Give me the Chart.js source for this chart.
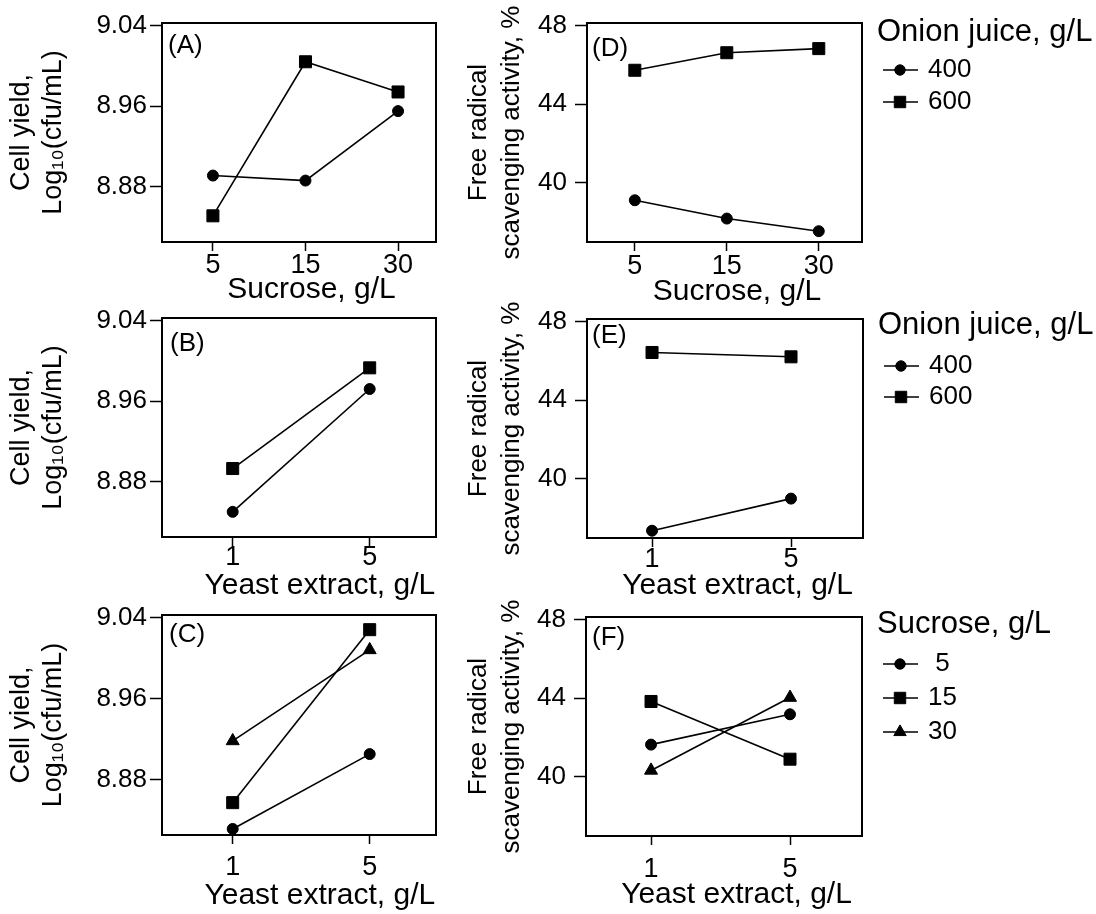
<!DOCTYPE html>
<html>
<head>
<meta charset="utf-8">
<script src="https://cdn.jsdelivr.net/npm/chart.js@4.4.1/dist/chart.umd.min.js"></script>
<style>
  body { margin: 0; background: #fff; }
  #fig { position: relative; width: 1096px; height: 914px; overflow: hidden; background: #fff; }
  #fig canvas { position: absolute; }
</style>
</head>
<body>
<div id="fig"></div>
<script>
// levels on the x axes / legends
const sucroseLevels = ['5', '15', '30'];
const yeastLevels = ['1', '5'];
const onionLevels = ['400', '600'];
const cellTicks = [8.88, 8.96, 9.04];
const fraTicks = [40, 44, 48];

// cell yield, log10(cfu/mL)
const cellSucrose400 = [8.891, 8.886, 8.955];
const cellSucrose600 = [8.851, 9.004, 8.974];
const cellYeast400 = [8.850, 8.972];
const cellYeast600 = [8.893, 8.993];
const cellYeastSuc5 = [8.831, 8.905];
const cellYeastSuc15 = [8.857, 9.028];
const cellYeastSuc30 = [8.918, 9.008];

// free radical scavenging activity, %
const fraSucrose400 = [39.12, 38.19, 37.55];
const fraSucrose600 = [45.72, 46.61, 46.82];
const fraYeast400 = [37.37, 39.00];
const fraYeast600 = [46.42, 46.20];
const fraYeastSuc5 = [41.64, 43.18];
const fraYeastSuc15 = [43.83, 40.90];
const fraYeastSuc30 = [40.33, 44.03];

const FONT = "'Liberation Sans', Arial, sans-serif";
Chart.defaults.font.family = FONT;
Chart.defaults.color = '#000';

const marks = {
  circle: { style: 'circle', r: 5.5 },
  square: { style: 'rect', r: 8.5 },
  triangle: { style: 'triangle', r: 7.5 }
};

function series(label, values, mark) {
  return {
    label: label,
    data: values.map((v, i) => ({ x: i, y: v })),
    borderColor: '#000',
    borderWidth: 1.6,
    pointStyle: marks[mark].style,
    pointRadius: marks[mark].r,
    pointHoverRadius: marks[mark].r,
    pointBackgroundColor: '#000',
    pointBorderColor: '#000',
    pointBorderWidth: 1,
    tension: 0,
    fill: false,
    clip: false
  };
}

// box round the plot, panel letter and the line+marker legend
const framePlugin = {
  id: 'frame',
  afterDraw(chart, args, o) {
    const ctx = chart.ctx, a = chart.chartArea;
    ctx.save();
    ctx.strokeStyle = '#000';
    ctx.fillStyle = '#000';
    ctx.lineWidth = 2;
    ctx.strokeRect(a.left, a.top, a.right - a.left, a.bottom - a.top);
    ctx.font = '26px ' + FONT;
    ctx.textBaseline = 'alphabetic';
    ctx.textAlign = 'left';
    ctx.fillText(o.tag, a.left + o.tagDx, a.top + o.tagDy);
    if (o.legendTitle) {
      const x0 = a.right;
      ctx.textBaseline = 'middle';
      ctx.font = '31px ' + FONT;
      ctx.fillText(o.legendTitle, x0 + 15, a.top + o.legDy);
      ctx.font = '26px ' + FONT;
      chart.data.datasets.forEach((ds, i) => {
        const y = a.top + o.legY0 + i * o.legStep;
        ctx.lineWidth = 1.6;
        ctx.beginPath();
        ctx.moveTo(x0 + 21, y);
        ctx.lineTo(x0 + 56, y);
        ctx.stroke();
        ctx.lineWidth = 1;
        Chart.helpers.drawPoint(ctx, { pointStyle: ds.pointStyle, radius: ds.pointRadius * 0.95, borderWidth: 1, rotation: 0 }, x0 + 38, y);
        ctx.fillText(ds.label, x0 + 66, y);
      });
    }
    ctx.restore();
  }
};

function makePanel(p) {
  const cv = document.createElement('canvas');
  const h = 23 + p.plotH + 80;
  cv.width = p.w;
  cv.height = h;
  cv.style.left = p.x + 'px';
  cv.style.top = (p.plotTop - 23) + 'px';
  document.getElementById('fig').appendChild(cv);

  new Chart(cv.getContext('2d'), {
    type: 'line',
    data: { datasets: p.datasets },
    options: {
      responsive: false,
      animation: false,
      devicePixelRatio: 1,
      events: [],
      layout: { padding: { left: 0, right: p.padRight, top: 23, bottom: 0 } },
      plugins: {
        legend: { display: false },
        tooltip: { enabled: false },
        frame: p.frame
      },
      scales: {
        x: {
          type: 'linear',
          min: p.xMin,
          max: p.xMax,
          afterBuildTicks: s => { s.ticks = p.cats.map((c, i) => ({ value: i })); },
          afterFit: s => { s.height = 80; },
          ticks: {
            callback: v => p.cats[v],
            font: { size: 27, lineHeight: 1 },
            padding: p.xTickPad,
            color: '#000',
            maxRotation: 0,
            autoSkip: false
          },
          grid: { display: true, drawOnChartArea: false, drawTicks: true, tickLength: 9, tickWidth: 1.5, tickColor: '#000' },
          border: { display: false },
          title: { display: true, text: p.xTitle, color: '#000', font: { size: 30, lineHeight: 1 }, padding: { top: 0, bottom: p.xTitlePad } }
        },
        y: {
          type: 'linear',
          min: p.yMin,
          max: p.yMax,
          afterBuildTicks: s => { s.ticks = p.yTicks.map(v => ({ value: v })); },
          afterFit: s => { s.width = p.yWidth; },
          ticks: {
            callback: v => v.toFixed(p.dec),
            font: { size: 26, lineHeight: 1 },
            padding: p.yTickPad,
            color: '#000'
          },
          grid: { display: true, drawOnChartArea: false, drawTicks: true, tickLength: 12, tickWidth: 1.5, tickColor: '#000' },
          border: { display: false },
          title: { display: true, text: p.yTitle, color: '#000', font: p.yTitleFont, padding: { top: p.yTitlePad, bottom: 0 } }
        }
      }
    },
    plugins: [framePlugin]
  });
}

const cellTitle = ['Cell yield,', 'Log\u2081\u2080(cfu/mL)'];
const fraTitle = ['Free radical', 'scavenging activity, %'];

const leftCol = {
  x: 0, w: 450, padRight: 14, yWidth: 162,
  yMin: 8.825, yMax: 9.0425, yTicks: cellTicks, dec: 2, yTickPad: 3,
  yTitle: cellTitle, yTitleFont: { size: 27, lineHeight: 1.2 }, yTitlePad: 5
};
const rightCol = {
  x: 450, w: 646, padRight: 234, yWidth: 137,
  yMin: 37.0, yMax: 48.12, yTicks: fraTicks, dec: 0, yTickPad: 8,
  yTitle: fraTitle, yTitleFont: { size: 26, lineHeight: 1.28 }, yTitlePad: 12
};

makePanel(Object.assign({}, leftCol, {
  plotTop: 23, plotH: 219, cats: sucroseLevels, xMin: -0.55, xMax: 2.41,
  xTitle: '   Sucrose, g/L', xTickPad: 1, xTitlePad: 17,
  frame: { tag: '(A)', tagDx: 6, tagDy: 30 },
  datasets: [series(onionLevels[0], cellSucrose400, 'circle'), series(onionLevels[1], cellSucrose600, 'square')]
}));
makePanel(Object.assign({}, leftCol, {
  plotTop: 318, plotH: 219, cats: yeastLevels, xMin: -0.516, xMax: 1.484,
  xTitle: '     Yeast extract, g/L', xTickPad: -2, xTitlePad: 16,
  frame: { tag: '(B)', tagDx: 8, tagDy: 33 },
  datasets: [series(onionLevels[0], cellYeast400, 'circle'), series(onionLevels[1], cellYeast600, 'square')]
}));
makePanel(Object.assign({}, leftCol, {
  plotTop: 615, plotH: 220, cats: yeastLevels, xMin: -0.516, xMax: 1.484,
  xTitle: '     Yeast extract, g/L', xTickPad: 10, xTitlePad: 4,
  frame: { tag: '(C)', tagDx: 7, tagDy: 27 },
  datasets: [
    series(sucroseLevels[0].padStart(2), cellYeastSuc5, 'circle'),
    series(sucroseLevels[1], cellYeastSuc15, 'square'),
    series(sucroseLevels[2], cellYeastSuc30, 'triangle')
  ]
}));
makePanel(Object.assign({}, rightCol, {
  plotTop: 23, plotH: 219, cats: sucroseLevels, xMin: -0.52, xMax: 2.47,
  xTitle: '   Sucrose, g/L', xTickPad: 2, xTitlePad: 15,
  frame: { tag: '(D)', tagDx: 5, tagDy: 33, legendTitle: 'Onion juice, g/L', legDy: 9, legY0: 47, legStep: 32 },
  datasets: [series(onionLevels[0], fraSucrose400, 'circle'), series(onionLevels[1], fraSucrose600, 'square')]
}));
makePanel(Object.assign({}, rightCol, {
  plotTop: 319, plotH: 219, padRight: 233, cats: yeastLevels, xMin: -0.468, xMax: 1.518,
  xTitle: '   Yeast extract, g/L', xTickPad: -1, xTitlePad: 17,
  frame: { tag: '(E)', tagDx: 5, tagDy: 24, legendTitle: 'Onion juice, g/L', legDy: 6, legY0: 47, legStep: 31 },
  datasets: [series(onionLevels[0], fraYeast400, 'circle'), series(onionLevels[1], fraYeast600, 'square')]
}));
makePanel(Object.assign({}, rightCol, {
  plotTop: 617, plotH: 219, yWidth: 136, cats: yeastLevels, xMin: -0.468, xMax: 1.518,
  xTitle: '   Yeast extract, g/L', xTickPad: 11, xTitlePad: 6,
  frame: { tag: '(F)', tagDx: 6, tagDy: 28, legendTitle: 'Sucrose, g/L', legDy: 7, legY0: 47, legStep: 34 },
  datasets: [
    series(sucroseLevels[0].padStart(2), fraYeastSuc5, 'circle'),
    series(sucroseLevels[1], fraYeastSuc15, 'square'),
    series(sucroseLevels[2], fraYeastSuc30, 'triangle')
  ]
}));
</script>
</body>
</html>
